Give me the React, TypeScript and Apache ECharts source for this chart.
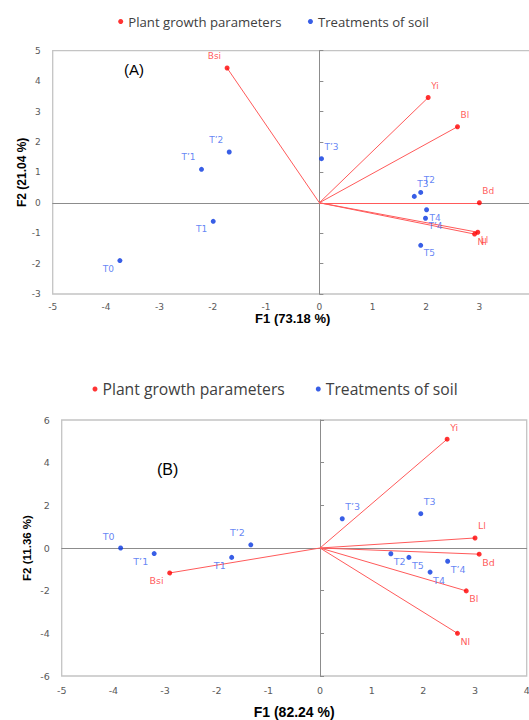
import React, { useEffect, useRef } from 'react';
import * as echarts from 'echarts';

const legendNames = ['Plant growth parameters', 'Treatments of soil'];

// Chart (A)
const aTitle = '(A)';
const aXName = 'F1 (73.18 %)';
const aYName = 'F2 (21.04 %)';
const aXRange = [-5, 4];
const aXInterval = 1;
const aYRange = [-3, 5];
const aYInterval = 1;
const aVarNames = ['Bsi', 'Yi', 'Bl', 'Bd', 'Ll', 'Nl'];
const aVarF1 = [-1.73, 2.04, 2.59, 3.0, 2.97, 2.91];
const aVarF2 = [4.43, 3.46, 2.5, 0.0, -0.97, -1.03];
const aTrtNames = ['T0', 'T1', 'T’1', 'T’2', 'T’3', 'T2', 'T3', 'T4', 'T’4', 'T5'];
const aTrtF1 = [-3.74, -1.99, -2.21, -1.69, 0.04, 1.9, 1.78, 2.01, 1.99, 1.9];
const aTrtF2 = [-1.9, -0.61, 1.1, 1.67, 1.45, 0.34, 0.21, -0.23, -0.51, -1.4];

// Chart (B)
const bTitle = '(B)';
const bXName = 'F1 (82.24 %)';
const bYName = 'F2 (11.36 %)';
const bXRange = [-5, 4];
const bXInterval = 1;
const bYRange = [-6, 6];
const bYInterval = 2;
const bVarNames = ['Bsi', 'Yi', 'Ll', 'Bd', 'Bl', 'Nl'];
const bVarF1 = [-2.91, 2.46, 3.0, 3.08, 2.83, 2.66];
const bVarF2 = [-1.17, 5.1, 0.47, -0.29, -2.01, -4.0];
const bTrtNames = ['T0', 'T’1', 'T1', 'T’2', 'T’3', 'T3', 'T2', 'T5', 'T’4', 'T4'];
const bTrtF1 = [-3.86, -3.21, -1.71, -1.34, 0.43, 1.95, 1.37, 1.72, 2.47, 2.13];
const bTrtF2 = [0.0, -0.26, -0.44, 0.15, 1.37, 1.61, -0.27, -0.44, -0.62, -1.13];

const RED = '#ff0000';
const RED_LINE = '#ff5a5a';
const RED_LABEL = '#ff3030';
const BLUE = '#0636e0';
const BLUE_LABEL = '#3d66f2';
const TICK_COLOR = '#595959';
const FRAME = '#c4c4c4';
const ZERO = '#8c8c8c';

function pointData(names: string[], xs: number[], ys: number[]) {
  return names.map((n, i) => {
    const left = xs[i] < 0;
    const up = ys[i] >= 0;
    return {
      name: n,
      value: [xs[i], ys[i]],
      label: { align: left ? 'right' : 'left', offset: [left ? -6 : 3, up ? -12 : 8] },
    };
  });
}

function vectorData(xs: number[], ys: number[]) {
  return xs.map((x, i) => ({ coords: [[0, 0], [x, ys[i]]] }));
}

function axesFor(
  gridIndex: number,
  xRange: number[], xInt: number, yRange: number[], yInt: number,
  xName: string, yName: string,
  opts: { xNameSize: number; yNameSize: number; xGap: number; yGap: number; tickSize: number; xMargin: number; hideMaxX: boolean }
) {
  const xMain = {
    type: 'value', gridIndex, min: xRange[0], max: xRange[1], interval: xInt,
    name: xName, nameLocation: 'middle', nameGap: opts.xGap, nameMoveOverlap: false,
    nameTextStyle: { fontFamily: 'Liberation Sans', fontWeight: 'bold', fontSize: opts.xNameSize, lineHeight: opts.xNameSize, color: '#000' },
    axisLine: { show: false, onZero: false }, axisTick: { show: false }, splitLine: { show: false },
    axisLabel: {
      fontFamily: 'DejaVu Sans', fontSize: opts.tickSize, lineHeight: opts.tickSize + 1,
      color: TICK_COLOR, margin: opts.xMargin, showMaxLabel: !opts.hideMaxX,
    },
  };
  const xZero = {
    type: 'value', gridIndex, min: xRange[0], max: xRange[1], interval: xInt,
    axisLine: { show: true, onZero: true, lineStyle: { color: ZERO, width: 1 } },
    axisTick: { show: false }, axisLabel: { show: false }, splitLine: { show: false },
  };
  const yMain = {
    type: 'value', gridIndex, position: 'left', min: yRange[0], max: yRange[1], interval: yInt,
    name: yName, nameLocation: 'middle', nameGap: opts.yGap, nameMoveOverlap: false,
    nameTextStyle: { fontFamily: 'Liberation Sans', fontWeight: 'bold', fontSize: opts.yNameSize, color: '#000' },
    axisLine: { show: false, onZero: false }, axisTick: { show: false }, splitLine: { show: false },
    axisLabel: { fontFamily: 'DejaVu Sans', fontSize: opts.tickSize, color: TICK_COLOR, margin: 12 },
  };
  const yZero = {
    type: 'value', gridIndex, position: 'left', min: yRange[0], max: yRange[1], interval: yInt,
    axisLine: { show: true, onZero: true, lineStyle: { color: ZERO, width: 1 } },
    axisTick: { show: true, inside: true, length: 4, lineStyle: { color: ZERO } },
    axisLabel: { show: false }, splitLine: { show: false },
  };
  return { x: [xMain, xZero], y: [yMain, yZero] };
}

function seriesFor(
  axisIndex: number,
  varNames: string[], varX: number[], varY: number[],
  trtNames: string[], trtX: number[], trtY: number[],
  labelSize: number
) {
  const labelBase = {
    show: true, position: 'inside', formatter: '{b}', verticalAlign: 'middle',
    fontFamily: 'DejaVu Sans', fontSize: labelSize,
  };
  return [
    {
      type: 'lines', name: 'vectors' + axisIndex, coordinateSystem: 'cartesian2d',
      xAxisIndex: axisIndex, yAxisIndex: axisIndex, silent: true, z: 1,
      lineStyle: { color: RED_LINE, width: 1, opacity: 1 },
      data: vectorData(varX, varY),
    },
    {
      type: 'scatter', name: legendNames[0], xAxisIndex: axisIndex, yAxisIndex: axisIndex,
      symbol: 'circle', symbolSize: 5, itemStyle: { color: RED }, z: 3,
      label: { ...labelBase, color: RED_LABEL },
      data: pointData(varNames, varX, varY),
    },
    {
      type: 'scatter', name: legendNames[1], xAxisIndex: axisIndex, yAxisIndex: axisIndex,
      symbol: 'circle', symbolSize: 5, itemStyle: { color: BLUE }, z: 3,
      label: { ...labelBase, color: BLUE_LABEL },
      data: pointData(trtNames, trtX, trtY),
    },
  ];
}

export default function App() {
  const ref = useRef<HTMLDivElement>(null);
  useEffect(() => {
    if (!ref.current) return;
    const chart = echarts.init(ref.current, null, { renderer: 'svg' });
    const a = axesFor(0, aXRange, aXInterval, aYRange, aYInterval, aXName, aYName,
      { xNameSize: 13, yNameSize: 12, xGap: 18, yGap: 25, tickSize: 9, xMargin: 7.5, hideMaxX: true });
    const b = axesFor(1, bXRange, bXInterval, bYRange, bYInterval, bXName, bYName,
      { xNameSize: 14, yNameSize: 11.5, xGap: 29, yGap: 29, tickSize: 9.5, xMargin: 9, hideMaxX: false });
    const option = {
      animation: false,
      backgroundColor: '#ffffff',
      grid: [
        { left: 52.7, top: 50.7, width: 480, height: 243.3, show: true, borderColor: FRAME, borderWidth: 1.3, backgroundColor: 'transparent' },
        { left: 61.7, top: 420, width: 465, height: 262.3, show: true, borderColor: FRAME, borderWidth: 1.3, backgroundColor: 'transparent' },
      ],
      legend: [
        {
          data: legendNames, left: 118.2, top: 15, icon: 'circle', itemWidth: 5, itemHeight: 5, itemGap: 26.5,
          padding: 0, textStyle: { fontFamily: 'Open Sans', fontSize: 13.2, color: '#404040' },
        },
        {
          data: legendNames, left: 92.5, top: 381, icon: 'circle', itemWidth: 5, itemHeight: 5, itemGap: 31,
          padding: 0, textStyle: { fontFamily: 'Open Sans', fontSize: 15.7, color: '#404040' },
        },
      ],
      xAxis: [...a.x, ...b.x],
      yAxis: [...a.y, ...b.y],
      graphic: [
        { type: 'text', left: 124, top: 62, style: { text: aTitle, fontFamily: 'Liberation Sans', fontSize: 15, fill: '#000' } },
        { type: 'text', left: 157, top: 461, style: { text: bTitle, fontFamily: 'Liberation Sans', fontSize: 16, fill: '#000' } },
      ],
      series: [
        ...seriesFor(0, aVarNames, aVarF1, aVarF2, aTrtNames, aTrtF1, aTrtF2, 9),
        ...seriesFor(2, bVarNames, bVarF1, bVarF2, bTrtNames, bTrtF1, bTrtF2, 9.5),
      ],
    };
    chart.setOption(option as any);
    return () => chart.dispose();
  }, []);
  return (
    <div style={{ position: 'fixed', left: 0, top: 0, width: 529, height: 720, overflow: 'hidden', background: '#fff' }}>
      <div ref={ref} style={{ width: 540, height: 720 }} />
    </div>
  );
}
